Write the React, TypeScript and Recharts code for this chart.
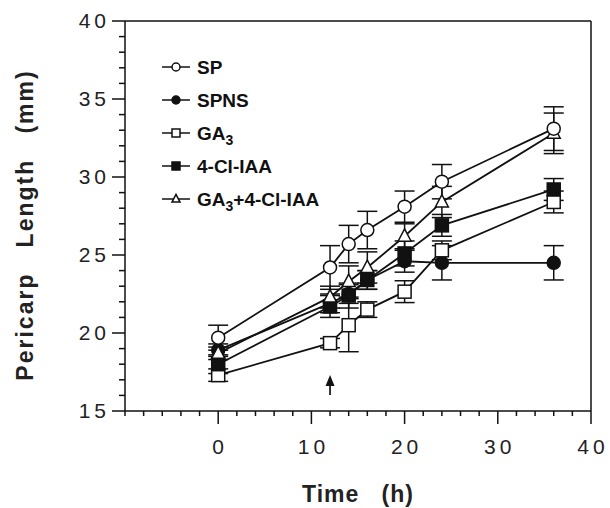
import React from "react";
import {
  ErrorBar,
  Label,
  Line,
  LineChart,
  ReferenceDot,
  ReferenceLine,
  XAxis,
  YAxis,
} from "recharts";

// values (pericarp length in mm, mean and error)
const TIMES = [0, 12, 14, 16, 20, 24, 36];

const SP = [19.7, 24.2, 25.7, 26.6, 28.1, 29.7, 33.1];
const SP_ERR = [0.8, 1.4, 1.2, 1.2, 1.0, 1.1, 1.4];

const SPNS = [18.9, 21.9, 22.5, 23.4, 24.6, 24.5, 24.5];
const SPNS_ERR = [0.4, 0.6, 0.6, 0.6, 0.7, 1.1, 1.1];

const GA3 = [17.3, 19.35, 20.5, 21.5, 22.65, 25.3, 28.4];
const GA3_ERR = [0.4, 0.3, 1.7, 0.5, 0.7, 0.6, 0.7];

const CL_IAA = [18.0, 21.7, 22.4, 23.4, 25.1, 26.9, 29.2];
const CL_IAA_ERR = [0.6, 0.7, 0.8, 0.6, 0.8, 0.7, 0.7];

const GA3_CL = [18.7, 22.3, 23.3, 24.2, 26.2, 28.4, 32.8];
const GA3_CL_ERR = [0.4, 0.7, 1.0, 1.0, 0.8, 1.0, 1.3];

const X_TICKS = [-10, -8, -6, -4, -2, 0, 2, 4, 6, 8, 10, 12, 14, 16, 18, 20, 22, 24, 26, 28, 30, 32, 34, 36, 38, 40];
const X_LABELS = [0, 10, 20, 30, 40];
const Y_TICKS = [15, 16, 17, 18, 19, 20, 21, 22, 23, 24, 25, 26, 27, 28, 29, 30, 31, 32, 33, 34, 35, 36, 37, 38, 39, 40];
const Y_LABELS = [15, 20, 25, 30, 35, 40];

type Shape = "circle" | "filledCircle" | "square" | "filledSquare" | "triangle";

const SERIES: { key: string; name: string; sub?: string; rest?: string; shape: Shape }[] = [
  { key: "spns", name: "SPNS", shape: "filledCircle" },
  { key: "ga3", name: "GA", sub: "3", shape: "square" },
  { key: "cl", name: "4-Cl-IAA", shape: "filledSquare" },
  { key: "ga3cl", name: "GA", sub: "3", rest: "+4-Cl-IAA", shape: "triangle" },
  { key: "sp", name: "SP", shape: "circle" },
];

const LEGEND_ORDER = ["sp", "spns", "ga3", "cl", "ga3cl"];

const data = TIMES.map((t, i) => ({
  t,
  sp: SP[i],
  spErr: SP_ERR[i],
  spns: SPNS[i],
  spnsErr: SPNS_ERR[i],
  ga3: GA3[i],
  ga3Err: GA3_ERR[i],
  cl: CL_IAA[i],
  clErr: CL_IAA_ERR[i],
  ga3cl: GA3_CL[i],
  ga3clErr: GA3_CL_ERR[i],
}));

const FONT = '"Liberation Sans", Arial, Helvetica, sans-serif';

function Marker({ shape, cx, cy, s }: { shape: Shape; cx: number; cy: number; s: number }) {
  const sw = 1.5;
  if (shape === "circle" || shape === "filledCircle") {
    return (
      <circle
        cx={cx}
        cy={cy}
        r={s / 2}
        fill={shape === "circle" ? "#fff" : "#111"}
        stroke="#111"
        strokeWidth={sw}
      />
    );
  }
  if (shape === "square" || shape === "filledSquare") {
    return (
      <rect
        x={cx - s / 2}
        y={cy - s / 2}
        width={s}
        height={s}
        fill={shape === "square" ? "#fff" : "#111"}
        stroke="#111"
        strokeWidth={sw}
      />
    );
  }
  const h = s * 0.95;
  return (
    <polygon
      points={`${cx},${cy - h * 0.6} ${cx - s / 2},${cy + h * 0.4} ${cx + s / 2},${cy + h * 0.4}`}
      fill="#fff"
      stroke="#111"
      strokeWidth={sw}
    />
  );
}

function makeDot(shape: Shape) {
  return (props: any) => {
    const { cx, cy, index } = props;
    if (cx == null || cy == null) return <g key={`d-${index}`} />;
    return (
      <g key={`d-${shape}-${index}`}>
        <Marker shape={shape} cx={cx} cy={cy} s={13} />
      </g>
    );
  };
}

function YTick(props: any) {
  const { x, y, payload } = props;
  const major = Y_LABELS.includes(payload.value);
  return (
    <g>
      <line x1={x} x2={x - (major ? 13 : 6)} y1={y} y2={y} stroke="#111" strokeWidth={1.5} />
      {major && (
        <text
          x={x - 15}
          y={y + 7}
          textAnchor="end"
          fontFamily={FONT}
          fontSize={21}
          letterSpacing={4}
          fill="#222"
        >
          {payload.value}
        </text>
      )}
    </g>
  );
}

function XTick(props: any) {
  const { x, y, payload } = props;
  const major = X_LABELS.includes(payload.value);
  return (
    <g>
      <line x1={x} x2={x} y1={y} y2={y + (major ? 13 : 5)} stroke="#111" strokeWidth={1.5} />
      {major && (
        <text
          x={x + 2}
          y={y + 43}
          textAnchor="middle"
          fontFamily={FONT}
          fontSize={21}
          letterSpacing={4}
          fill="#222"
        >
          {payload.value}
        </text>
      )}
    </g>
  );
}

function Arrow(props: any) {
  const { cx, cy } = props;
  return (
    <g>
      <line x1={cx} x2={cx} y1={cy + 8} y2={cy + 20} stroke="#111" strokeWidth={1.7} />
      <polygon points={`${cx},${cy} ${cx - 4.5},${cy + 11} ${cx + 4.5},${cy + 11}`} fill="#111" />
    </g>
  );
}

function LegendBox() {
  const rows = LEGEND_ORDER.map((k) => SERIES.find((s) => s.key === k)!);
  return (
    <svg
      width={610}
      height={508}
      style={{ position: "absolute", left: 0, top: 0, pointerEvents: "none" }}
    >
      {rows.map((s, i) => {
        const y = 67 + i * 33;
        return (
          <g key={s.key}>
            <line x1={162} x2={190} y1={y} y2={y} stroke="#111" strokeWidth={1.5} />
            <Marker shape={s.shape} cx={176} cy={y} s={8} />
            <text x={197} y={y + 7} fontFamily={FONT} fontSize={19} fontWeight="bold" fill="#111">
              {s.name}
              {s.sub && (
                <tspan fontSize={14} dy={5}>
                  {s.sub}
                </tspan>
              )}
              {s.rest && <tspan dy={-5}>{s.rest}</tspan>}
            </text>
          </g>
        );
      })}
    </svg>
  );
}

export default function App() {
  return (
    <div style={{ position: "relative", width: 610, height: 508, background: "#fff" }}>
      <style>{`body{margin:0;background:#fff}`}</style>
      <LineChart
        width={610}
        height={508}
        data={data}
        margin={{ top: 21, right: 19, bottom: 0, left: 0 }}
      >
        <XAxis
          dataKey="t"
          type="number"
          domain={[-10, 40]}
          ticks={X_TICKS}
          interval={0}
          tickSize={0}
          tickMargin={0}
          tickLine={false}
          tick={<XTick />}
          axisLine={{ stroke: "#111", strokeWidth: 1.5 }}
          height={97}
        >
          <Label
            content={(p: any) => (
              <text
                x={p.viewBox.x + p.viewBox.width / 2}
                y={p.viewBox.y + 91}
                textAnchor="middle"
                fontFamily={FONT}
                fontSize={23}
                fontWeight="bold"
                letterSpacing={1}
                fill="#222"
                style={{ whiteSpace: "pre" }}
              >
                {"Time   (h)"}
              </text>
            )}
          />
        </XAxis>
        <YAxis
          type="number"
          domain={[15, 40]}
          ticks={Y_TICKS}
          interval={0}
          tickSize={0}
          tickMargin={0}
          tickLine={false}
          tick={<YTick />}
          axisLine={{ stroke: "#111", strokeWidth: 1.5 }}
          width={125}
        >
          <Label
            content={() => (
              <text
                x={25}
                y={225}
                transform="rotate(-90, 25, 225)"
                textAnchor="middle"
                dominantBaseline="central"
                fontFamily={FONT}
                fontSize={23}
                fontWeight="bold"
                letterSpacing={2}
                fill="#222"
                style={{ whiteSpace: "pre" }}
              >
                {"Pericarp   Length   (mm)"}
              </text>
            )}
          />
        </YAxis>
        <ReferenceLine y={40} stroke="#111" strokeWidth={1.5} />
        <ReferenceLine x={40} stroke="#111" strokeWidth={1.5} />
        <ReferenceDot x={12} y={17.3} r={0} shape={<Arrow />} />
        {SERIES.map((s) => (
          <Line
            key={s.key}
            dataKey={s.key}
            type="linear"
            stroke="#111"
            strokeWidth={1.8}
            dot={makeDot(s.shape)}
            activeDot={false}
            isAnimationActive={false}
          >
            <ErrorBar
              dataKey={`${s.key}Err`}
              width={10}
              stroke="#111"
              strokeWidth={1.5}
              direction="y"
              isAnimationActive={false}
            />
          </Line>
        ))}
      </LineChart>
      <LegendBox />
    </div>
  );
}
